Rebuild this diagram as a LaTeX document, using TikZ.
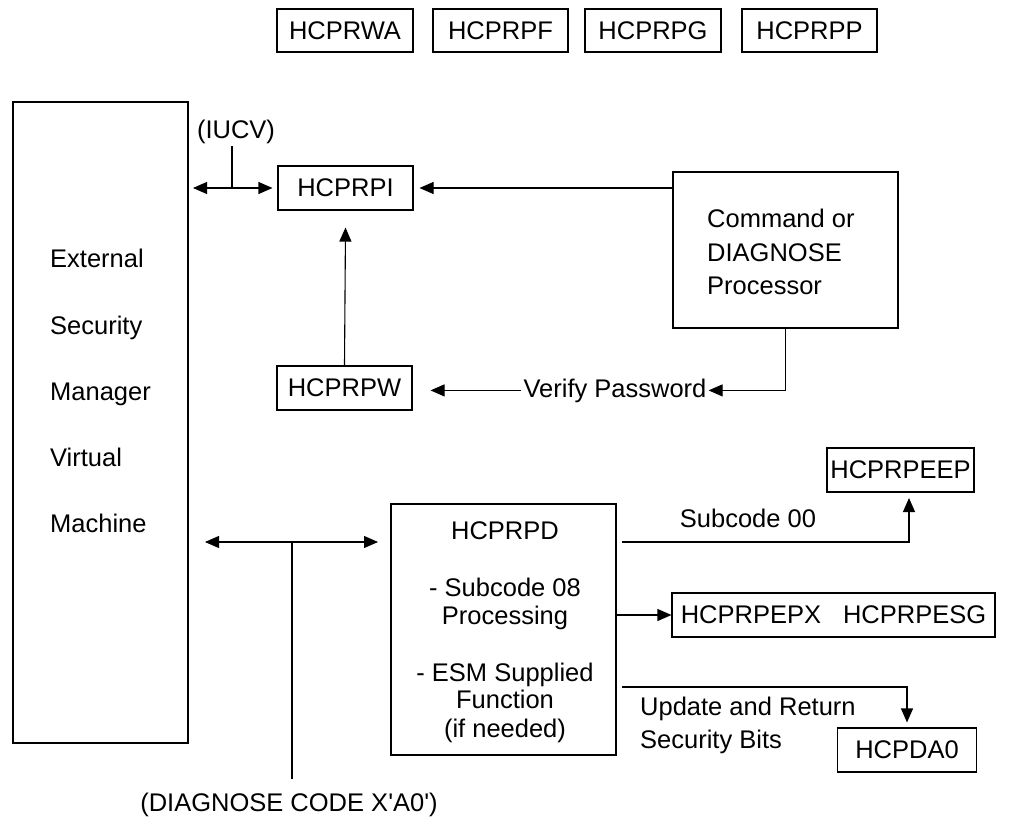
\documentclass[tikz,border=0pt]{standalone}
\usepackage{fontspec}
\setmainfont{Liberation Sans}
\usetikzlibrary{arrows.meta}
\begin{document}
\begin{tikzpicture}[x=1pt,y=-1pt,
  every node/.style={font=\fontsize{25.5}{30}\selectfont},
  box/.style={draw, line width=1.1pt, inner sep=0pt},
  lbl/.style={inner sep=0pt},
  conn/.style={line width=1.1pt},
  arr/.style={conn, -{Triangle[length=14pt,width=12pt]}},
  dbl/.style={conn, {Triangle[length=14pt,width=12pt]}-{Triangle[length=14pt,width=12pt]}}]
\useasboundingbox[fill=white] (0,0) rectangle (1010,819);

% top row
\node[box, minimum width=136pt, minimum height=43pt] (wa) at (345,30.5) {HCPRWA};
\node[box, minimum width=135pt, minimum height=43pt] (pf) at (500.5,30.5) {HCPRPF};
\node[box, minimum width=136pt, minimum height=43pt] (pg) at (653,30.5) {HCPRPG};
\node[box, minimum width=135pt, minimum height=43pt] (pp) at (809.5,30.5) {HCPRPP};

% ESM
\node[box, minimum width=175pt, minimum height=641pt] (esm) at (100.5,422.5) {};
\node[lbl, anchor=base west] (e1) at (50,267) {External};
\node[lbl, anchor=base west] (e2) at (50,334) {Security};
\node[lbl, anchor=base west] (e3) at (50,400) {Manager};
\node[lbl, anchor=base west] (e4) at (50,466) {Virtual};
\node[lbl, anchor=base west] (e5) at (50,532) {Machine};

% HCPRPI / HCPRPW
\node[box, minimum width=135pt, minimum height=44pt] (pi) at (345.5,188) {HCPRPI};
\node[box, minimum width=135pt, minimum height=44pt] (pw) at (344.5,388) {HCPRPW};

% IUCV
\node[lbl, anchor=base] (iucv) at (236,138) {(IUCV)};
\coordinate (iucvL) at (193,188);
\coordinate (iucvT) at (232,146);
\draw[dbl] (iucvL) -- ([xshift=-5pt]pi.west);
\draw[conn] (iucvT) -- (iucvT |- pi.west);

% Command processor
\node[box, minimum width=225pt, minimum height=156pt] (cmd) at (785.5,250) {};
\node[lbl, anchor=base west] (c1) at (707,227) {Command or};
\node[lbl, anchor=base west] (c2) at (707,261) {DIAGNOSE};
\node[lbl, anchor=base west] (c3) at (707,294) {Processor};

\draw[arr] (cmd.west |- pi.east) -- ([xshift=6pt]pi.east);
\draw[arr] (pw.north) -- ([yshift=-17pt]pi.south);

\node[anchor=base, inner sep=2pt] (vp) at (615,397) {Verify Password};
\draw[arr] (cmd.south) |- (vp.east);
\draw[arr] (vp.west) -- ([xshift=18pt]pw.east |- vp.west);

% HCPRPD
\node[box, minimum width=225pt, minimum height=251pt] (pd) at (503.5,629.5) {};
\node[lbl, anchor=base] (d1) at (505,539) {HCPRPD};
\node[lbl, anchor=base] (d2) at (505,596) {- Subcode 08};
\node[lbl, anchor=base] (d3) at (505,624) {Processing};
\node[lbl, anchor=base] (d4) at (505,681) {- ESM Supplied};
\node[lbl, anchor=base] (d5) at (505,708) {Function};
\node[lbl, anchor=base] (d6) at (505,737) {(if needed)};

% diagnose double arrow
\coordinate (dl) at (205,542);
\coordinate (dr) at (378,542);
\coordinate (dv) at (292,779);
\draw[dbl] (dl) -- (dr);
\draw[conn] (dv) -- (dv |- dl);
\node[lbl, anchor=base] (diag) at (289,811) {(DIAGNOSE CODE X\textquotesingle A0\textquotesingle)};

% right side
\node[box, minimum width=147pt, minimum height=44pt] (eep) at (900.5,470) {HCPRPEEP};
\node[box, minimum width=323pt, minimum height=44pt] (pepx) at (833.5,615) {HCPRPEPX\hspace{22pt}HCPRPESG};
\node[box, minimum width=139pt, minimum height=44pt] (da0) at (907,750) {HCPDA0};

\coordinate (s0) at (622,542);
\coordinate (s0e) at (909,498);
\draw[arr] (s0) -| (s0e);
\node[lbl, anchor=base] (sc00) at (748,527) {Subcode 00};

\draw[arr] (pd.east |- pepx.west) -- (pepx.west);

\coordinate (u0) at (622,687);
\draw[arr] (u0) -| ([yshift=5pt]da0.north);
\node[lbl, anchor=base west] (u1) at (640,715) {Update and Return};
\node[lbl, anchor=base west] (u2) at (640,748) {Security Bits};
\end{tikzpicture}
\end{document}
